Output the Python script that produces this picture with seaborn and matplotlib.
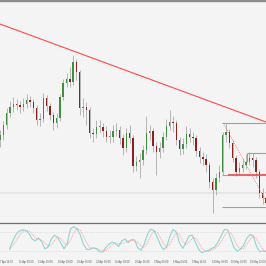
import matplotlib
matplotlib.use("Agg")
import matplotlib.pyplot as plt
import seaborn as sns
import numpy as np
import pandas as pd

# ---- data ----
opens = [1.0960, 1.0965, 1.0975, 1.0987, 1.0993, 1.0996, 1.0995, 1.0993, 1.0996, 1.1000,
         1.0998, 1.0992, 1.0980, 1.0981, 1.1002, 1.0994, 1.0985, 1.0977, 1.0982, 1.1003,
         1.1017, 1.1021, 1.1018, 1.1038, 1.1028, 1.0992, 1.0993, 1.0990, 1.0967, 1.0966,
         1.0973, 1.0973, 1.0969, 1.0963, 1.0963, 1.0969, 1.0970, 1.0962, 1.0952, 1.0967,
         1.0962, 1.0934, 1.0938, 1.0940, 1.0950, 1.0967, 1.0969, 1.0954, 1.0948, 1.0952,
         1.0963, 1.0974, 1.0978, 1.0977, 1.0960, 1.0951, 1.0956, 1.0966, 1.0963, 1.0962,
         1.0949, 1.0943, 1.0941, 1.0935, 1.0918, 1.0910, 1.0922, 1.0928, 1.0965, 1.0968,
         1.0957, 1.0942, 1.0928, 1.0932, 1.0935, 1.0938, 1.0942, 1.0940, 1.0928, 1.0907,
         1.0902]
closes = [1.0965, 1.0975, 1.0987, 1.0993, 1.0996, 1.0995, 1.0993, 1.0996, 1.1000, 1.0998,
          1.0992, 1.0980, 1.0981, 1.1002, 1.0994, 1.0985, 1.0977, 1.0982, 1.1003, 1.1017,
          1.1021, 1.1018, 1.1038, 1.1028, 1.0992, 1.0993, 1.0990, 1.0967, 1.0966, 1.0973,
          1.0973, 1.0969, 1.0963, 1.0963, 1.0969, 1.0970, 1.0962, 1.0952, 1.0967, 1.0962,
          1.0934, 1.0938, 1.0940, 1.0950, 1.0967, 1.0969, 1.0954, 1.0948, 1.0952, 1.0963,
          1.0974, 1.0978, 1.0977, 1.0960, 1.0951, 1.0956, 1.0966, 1.0963, 1.0962, 1.0949,
          1.0943, 1.0941, 1.0935, 1.0918, 1.0910, 1.0922, 1.0928, 1.0965, 1.0968, 1.0957,
          1.0942, 1.0928, 1.0932, 1.0935, 1.0938, 1.0942, 1.0940, 1.0928, 1.0907, 1.0902,
          1.0897]
highs = [1.0970, 1.0979, 1.0992, 1.0999, 1.1003, 1.1001, 1.0999, 1.1002, 1.1006, 1.1004,
         1.1001, 1.0995, 1.0987, 1.1007, 1.1005, 1.0997, 1.0988, 1.0987, 1.1006, 1.1021,
         1.1027, 1.1033, 1.1045, 1.1041, 1.1030, 1.1002, 1.0998, 1.0993, 1.0972, 1.0980,
         1.0980, 1.0977, 1.0974, 1.0970, 1.0975, 1.0977, 1.0974, 1.0966, 1.0972, 1.0975,
         1.0965, 1.0944, 1.0947, 1.0955, 1.0984, 1.0975, 1.0972, 1.0958, 1.0958, 1.0968,
         1.0981, 1.0990, 1.0984, 1.0980, 1.0963, 1.0962, 1.0974, 1.0972, 1.0968, 1.0965,
         1.0953, 1.0948, 1.0946, 1.0938, 1.0922, 1.0927, 1.0935, 1.0968, 1.0977, 1.0971,
         1.0960, 1.0945, 1.0938, 1.0942, 1.0946, 1.0948, 1.0947, 1.0943, 1.0931, 1.0912,
         1.0905]
lows = [1.0953, 1.0960, 1.0971, 1.0983, 1.0988, 1.0990, 1.0987, 1.0989, 1.0992, 1.0993,
        1.0987, 1.0975, 1.0974, 1.0978, 1.0989, 1.0980, 1.0970, 1.0972, 1.0979, 1.1000,
        1.1013, 1.1013, 1.1015, 1.1020, 1.0985, 1.0983, 1.0975, 1.0962, 1.0958, 1.0962,
        1.0968, 1.0963, 1.0958, 1.0957, 1.0958, 1.0964, 1.0956, 1.0945, 1.0948, 1.0957,
        1.0928, 1.0929, 1.0922, 1.0935, 1.0946, 1.0960, 1.0948, 1.0925, 1.0942, 1.0948,
        1.0960, 1.0970, 1.0968, 1.0955, 1.0945, 1.0946, 1.0952, 1.0958, 1.0955, 1.0944,
        1.0937, 1.0935, 1.0928, 1.0912, 1.0887, 1.0905, 1.0918, 1.0925, 1.0958, 1.0952,
        1.0938, 1.0924, 1.0925, 1.0928, 1.0931, 1.0935, 1.0933, 1.0922, 1.0902, 1.0896,
        1.0893]
stoch_main = [26, 52, 72, 83, 87, 85, 76, 58, 52, 61, 50, 27, 32, 58, 70, 63, 44, 27, 45, 90,
              97, 90, 72, 42, 25, 25, 30, 28, 18, 16, 30, 42, 48, 44, 34, 52, 58, 46, 56, 55,
              30, 22, 42, 72, 89, 85, 65, 40, 24, 32, 66, 88, 80, 46, 28, 46, 68, 70, 47, 25,
              14, 19, 22, 28, 32, 48, 68, 88, 87, 60, 31, 19, 26, 38, 60, 72, 68, 36, 18, 20,
              18]
stoch_signal = [24, 39, 50, 69, 81, 85, 83, 73, 62, 57, 54, 46, 36, 39, 53, 64, 59, 45, 39, 54,
                77, 92, 86, 68, 46, 31, 27, 28, 25, 21, 21, 29, 40, 45, 42, 43, 48, 52, 53, 52,
                47, 36, 31, 45, 68, 82, 80, 63, 43, 32, 41, 62, 78, 71, 51, 40, 47, 61, 62, 47,
                29, 19, 18, 23, 27, 36, 49, 68, 81, 78, 59, 37, 25, 28, 41, 57, 67, 59, 41, 25,
                19]
time_labels = ["7 Apr 16:00", "11 Apr 00:00", "13 Apr 00:00", "18 Apr 08:00", "20 Apr 16:00",
               "24 Apr 00:00", "26 Apr 08:00", "28 Apr 16:00", "3 May 00:00", "5 May 04:00",
               "9 May 16:00", "14 May 08:00", "16 May 20:00", "19 May 12:00"]
trend_price = [1.1076, 1.0978]
level_price = 1.0907
box_top, box_mid, box_bottom = 1.0977, 1.0925, 1.0893
box2_top, box2_low = 1.0947, 1.0938

BG = "#f4f4f4"
sns.set_theme(style="white")
plt.rcParams["font.family"] = ["Liberation Sans", "DejaVu Sans"]

fig = plt.figure(figsize=(2.66, 2.66), dpi=100, facecolor=BG)
H = 266.0
ax = fig.add_axes([0, (H - 222) / H, 1, 220 / H], facecolor=BG)
sub = fig.add_axes([0, (H - 257) / H, 1, 34 / H], facecolor=BG)

n = len(closes)
idx = np.arange(n)
df = pd.DataFrame({"i": idx, "open": opens, "close": closes, "high": highs, "low": lows})
bull = df["close"] >= df["open"]

# reference level line
ax.axhline(level_price, color="#e2e2e2", lw=1.1, zorder=0)

# wicks
ax.vlines(df["i"], df["low"], df["high"], color="#ababab", lw=0.6, zorder=1)
# bodies
body_bot = np.minimum(df["open"], df["close"])
body_h = np.maximum(np.abs(df["close"] - df["open"]), 0.00006)
ax.bar(df["i"][bull], body_h[bull], bottom=body_bot[bull], width=0.42,
       color="#3f8f3f", edgecolor="none", zorder=2)
ax.bar(df["i"][~bull], body_h[~bull], bottom=body_bot[~bull], width=0.42,
       color="#8e2020", edgecolor="none", zorder=2)

# trend line
tl = pd.DataFrame({"x": [0, n - 1], "y": trend_price})
sns.lineplot(data=tl, x="x", y="y", ax=ax, color="#ff4a4a", lw=0.8, zorder=3)

# boxes / annotations on the right
xa, xb, xc = 66.8, 68.6, 74.3
ax.hlines([box_top, box_bottom], xa, n, color="#a0a0a0", lw=0.8, zorder=3)
ax.hlines(box_mid, xa, xb, color="#a0a0a0", lw=0.8, zorder=3)
ax.hlines(box_mid, xb, n, color="#e05050", lw=1.5, alpha=0.85, zorder=3)
ax.hlines(box2_top, xc, n, color="#a0a0a0", lw=0.8, zorder=3)
ax.vlines(xc, box2_low, box2_top, color="#a0a0a0", lw=0.8, zorder=3)
ax.plot([67.1, n], [box_top, box_bottom], color="#ff6a6a", lw=0.6, ls=(0, (1, 1.5)), zorder=3)

ax.set_xlim(0, n - 1)
ax.set_ylim(1.1100 - 0.0222, 1.1100 - 0.0002)
ax.set_xticks([]); ax.set_yticks([])
ax.set_xlabel(""); ax.set_ylabel("")
for s in ax.spines.values():
    s.set_visible(False)

# stochastic
st = pd.DataFrame({"i": idx, "main": stoch_main, "signal": stoch_signal})
sns.lineplot(data=st, x="i", y="main", ax=sub, color="#8cd6d6", lw=0.8)
sns.lineplot(data=st, x="i", y="signal", ax=sub, color="#ff9c9c", lw=0.7, ls=(0, (1, 1)))
sub.axhline(80, color="#cfcfcf", lw=0.5, ls=(0, (1, 1.5)))
sub.axhline(20, color="#cfcfcf", lw=0.5, ls=(0, (1, 1.5)))
sub.set_xlim(0, n - 1)
sub.set_ylim(0.9, 108.5)
sub.set_yticks([])
sub.set_xticks(np.arange(-3, n, 6))
sub.set_xticklabels(time_labels, fontsize=1.8, color="#555555", ha="left")
sub.tick_params(axis="x", length=1.2, width=0.4, pad=1.0, color="#777777")
sub.set_xlabel(""); sub.set_ylabel("")
for k, s in sub.spines.items():
    s.set_visible(k == "top")
sub.spines["top"].set_color("#6e6e6e")
sub.spines["top"].set_linewidth(0.9)

# top window border
fig.add_artist(plt.Line2D([0, 1], [1 - 1.2 / H, 1 - 1.2 / H], color="#8c8c8c", lw=1.7,
                          transform=fig.transFigure))

fig.savefig("out.png", dpi=100, facecolor=BG)
